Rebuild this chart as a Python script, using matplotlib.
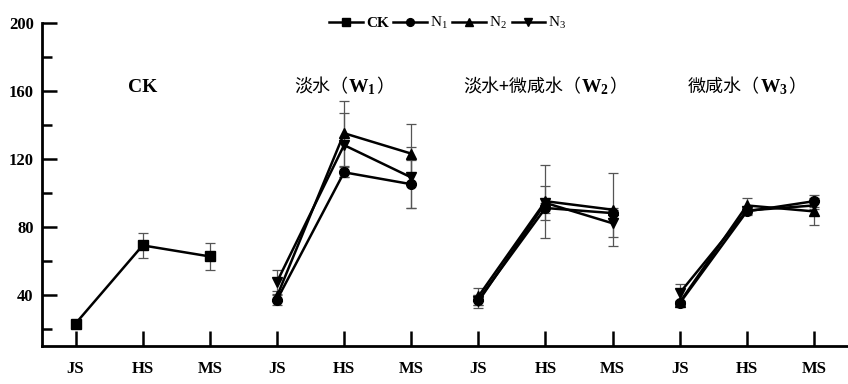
import numpy as np
import matplotlib
matplotlib.use("Agg")
import matplotlib.pyplot as plt
from matplotlib.ticker import MultipleLocator
from matplotlib.offsetbox import TextArea, HPacker, AnnotationBbox

plt.rcParams['font.family'] = ['Liberation Serif', 'Noto Sans CJK SC']
plt.rcParams['mathtext.fontset'] = 'custom'
plt.rcParams['mathtext.rm'] = 'Liberation Serif'
plt.rcParams['mathtext.bf'] = 'Liberation Serif:bold'
plt.rcParams['mathtext.it'] = 'Liberation Serif:italic'

stages = ['JS', 'HS', 'MS']
group_prefix = ['', '淡水（', '淡水+微咸水（', '微咸水（']
group_code = ['CK', 'W_1', 'W_2', 'W_3']
group_suffix = ['', '）', '）', '）']

ck_vals = [23, 69, 62.5]
ck_err = [1, 7.5, 8]

# W1, W2, W3 groups, each JS/HS/MS
n1_vals = [[37, 112, 105], [37, 91, 88], [35, 89, 95]]
n1_err = [[3, 3, 14], [3, 3, 3], [1, 2, 3.5]]
n2_vals = [[39, 135, 123], [39, 95, 90], [35.5, 92.5, 89]]
n2_err = [[3, 19, 17.5], [5, 21.5, 21.5], [1, 4.5, 8]]
n3_vals = [[47.5, 128, 109], [36, 94, 82], [41, 89.5, 92.5]]
n3_err = [[7, 19, 18], [4, 10, 8], [5, 2, 2]]

fig = plt.figure(figsize=(8.48, 3.84), dpi=100)
ax = fig.add_axes([0.0495, 0.0998, 0.95, 0.841])

line_kw = dict(color='black', lw=1.8, ms=7, zorder=3)
err_kw = dict(fmt='none', ecolor='#555555', elinewidth=0.9, capsize=3.5, capthick=0.9, zorder=2)

x0 = np.arange(1, 4)
ax.errorbar(x0, ck_vals, yerr=ck_err, **err_kw)
ax.plot(x0, ck_vals, marker='s', label='CK', **line_kw)

series = [(n1_vals, n1_err, 'o', 'N$_1$'), (n2_vals, n2_err, '^', 'N$_2$'), (n3_vals, n3_err, 'v', 'N$_3$')]
for vals, errs, mk, lab in series:
    for g in range(3):
        xs = np.arange(4 + 3 * g, 7 + 3 * g)
        ax.errorbar(xs, vals[g], yerr=errs[g], **err_kw)
        ax.plot(xs, vals[g], marker=mk, label=lab if g == 0 else None, **line_kw)

ax.set_xlim(0.5, 12.5)
ax.set_ylim(10, 200)
ax.set_xticks(np.arange(1, 13))
ax.set_xticklabels(stages * 4, fontweight='bold', fontsize=12)
ax.yaxis.set_major_locator(MultipleLocator(40))
ax.yaxis.set_minor_locator(MultipleLocator(20))
ax.set_yticks([40, 80, 120, 160, 200])
for t in ax.get_yticklabels():
    t.set_fontweight('bold')
    t.set_fontsize(12)
ax.tick_params(axis='both', which='major', direction='in', length=11, width=1.8)
ax.tick_params(axis='y', which='minor', direction='in', length=7, width=1.8)
ax.tick_params(axis='x', pad=11)
ax.tick_params(axis='y', pad=6)
for s in ['top', 'right']:
    ax.spines[s].set_visible(False)
for s in ['left', 'bottom']:
    ax.spines[s].set_linewidth(2)

title_x = [2, 5, 8, 11]
for gx, pre, code, suf in zip(title_x, group_prefix, group_code, group_suffix):
    parts = []
    if pre:
        parts.append(TextArea(pre, textprops=dict(fontsize=13, family=['Noto Sans CJK SC'])))
    if code == 'CK':
        parts.append(TextArea('CK', textprops=dict(fontsize=14, fontweight='bold')))
    else:
        parts.append(TextArea('$\\mathbf{' + code + '}$', textprops=dict(fontsize=14)))
    if suf:
        parts.append(TextArea(suf, textprops=dict(fontsize=13, family=['Noto Sans CJK SC'])))
    box = HPacker(children=parts, align='baseline', pad=0, sep=0)
    ab = AnnotationBbox(box, (gx, 162), xycoords='data', frameon=False, box_alignment=(0.5, 0.5), pad=0)
    ax.add_artist(ab)

leg = fig.legend(loc='center', bbox_to_anchor=(0.528, 0.94), ncol=4, frameon=False,
                 fontsize=11, handlelength=2.2, handletextpad=0.2, columnspacing=0.3,
                 markerscale=0.8)
leg.get_texts()[0].set_fontweight('bold')

fig.savefig('out.png', dpi=100)
